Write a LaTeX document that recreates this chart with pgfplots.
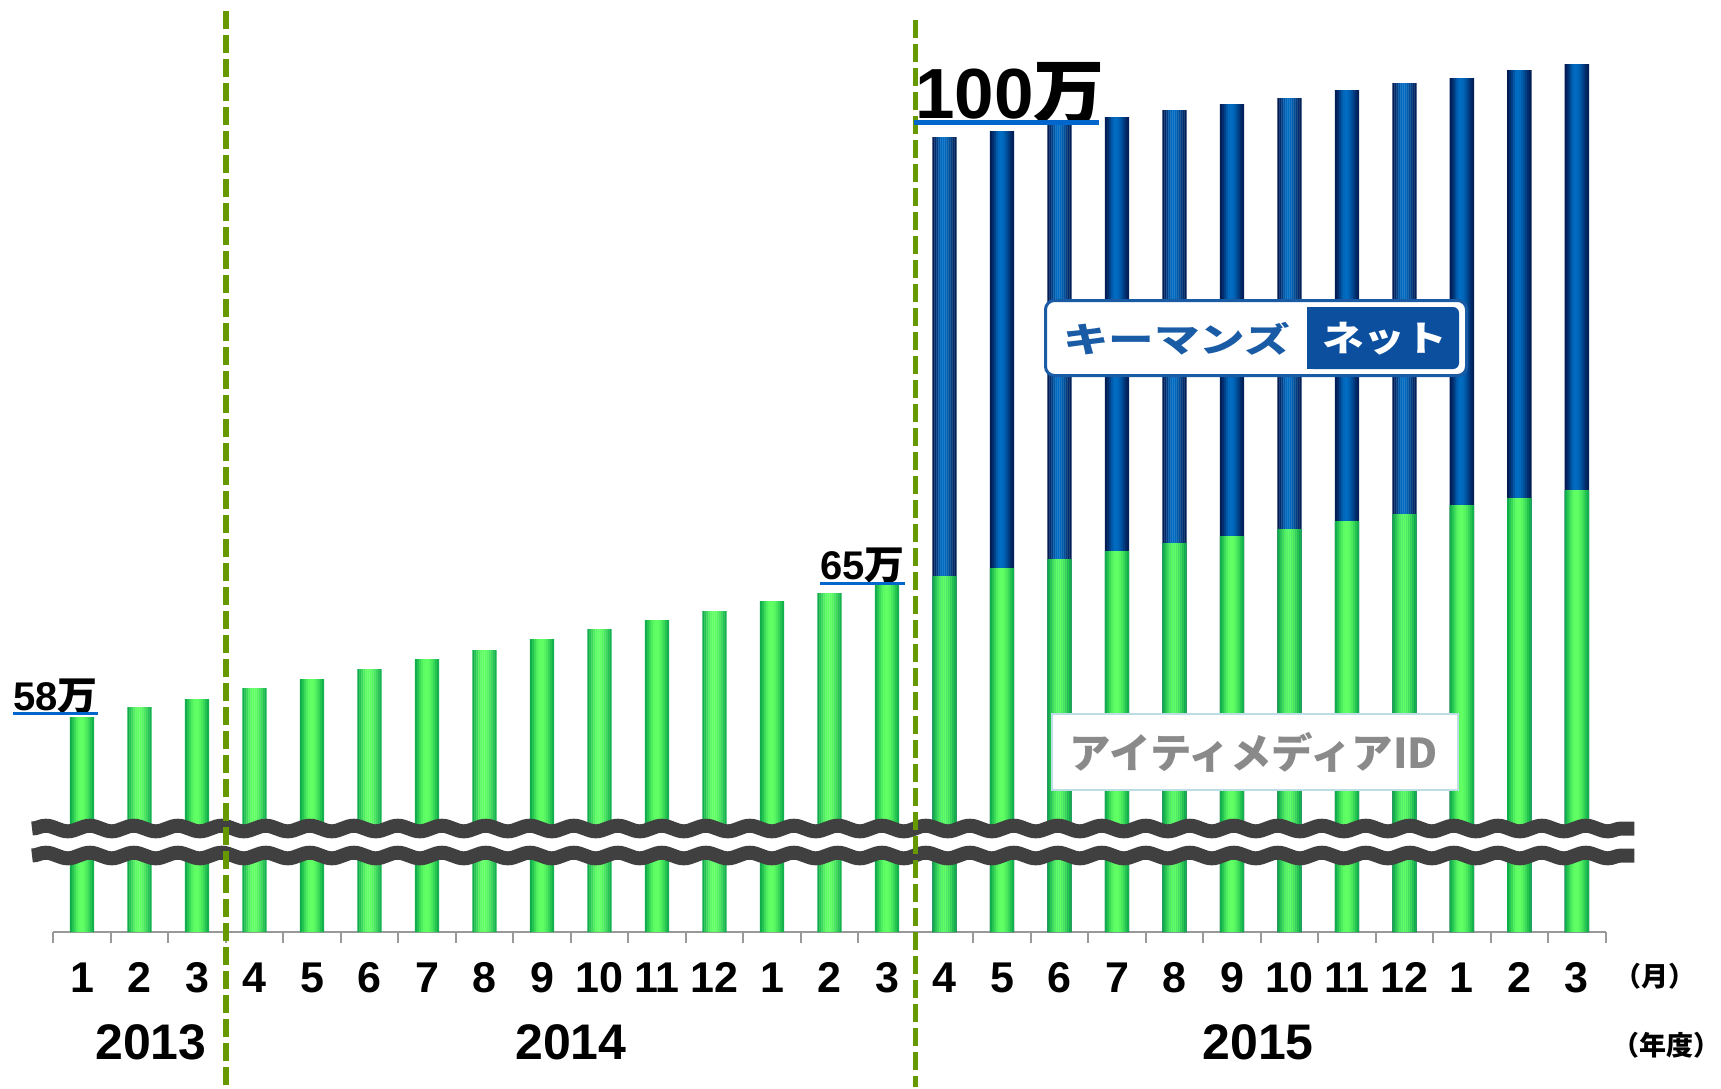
\documentclass[border=0pt]{standalone}
\usepackage{graphicx}
\usepackage{fontspec}
\setmainfont{Liberation Sans}
\newfontfamily\jp{Noto Sans CJK JP}
\usepackage{pgfplots}
\usepackage{pgfplotstable}
\pgfplotsset{compat=1.18}
\usetikzlibrary{decorations.pathmorphing}
\definecolor{gdark}{HTML}{0BAA4A}
\definecolor{glight}{HTML}{60FF64}
\definecolor{bdark}{HTML}{021C55}
\definecolor{blight}{HTML}{006CC2}
\definecolor{olivec}{HTML}{669900}
\definecolor{ulblue}{HTML}{0066CC}
\definecolor{brk}{HTML}{404040}
\definecolor{kmblue}{HTML}{1A5BA6}
\definecolor{kmdark}{HTML}{0B4F9E}
\definecolor{idgray}{HTML}{8A8A8A}
\definecolor{idborder}{HTML}{BCDDE4}
% アイティメディアID (green), month index 0..26 = 2013/1 .. 2016/3
\pgfplotstableread{
x y
0 215
1 225
2 233
3 244
4 253
5 263
6 273
7 282
8 293
9 303
10 312
11 321
12 331
13 339
14 348
15 356
16 364
17 373
18 381
19 389
20 396
21 403
22 411
23 418
24 427
25 434
26 442
}\greendata
% total incl. キーマンズネット (blue), FY2015
\pgfplotstableread{
x y
15 795
16 801
17 808
18 815
19 822
20 828
21 834
22 842
23 849
24 854
25 862
26 868
}\bluedata
% one vertical strip of each bar (gives the cylinder-like gradient)
\newcommand\strip[4]{\addplot[ybar, bar width=2.4pt, bar shift=#2pt, draw=none, fill=#4light!#3!#4dark] table[x=x,y=y]{#1};}
\begin{document}
\begin{tikzpicture}
\begin{axis}[
  at={(53.3pt,-932pt)}, anchor=south west,
  scale only axis, width=1552.4pt, height=932pt,
  xmin=-0.5, xmax=26.5, ymin=0, ymax=932,
  axis x line*=bottom, axis y line=none,
  axis line style={draw=gray!80, line width=2pt},
  xtick={0,...,26},
  xticklabels={1,2,3,4,5,6,7,8,9,10,11,12,1,2,3,4,5,6,7,8,9,10,11,12,1,2,3},
  major tick length=0pt,
  minor xtick={-0.5,0.5,...,26.5},
  minor tick length=11pt,
  xtick align=outside,
  minor tick style={draw=gray!80, line width=2pt},
  xticklabel style={font=\fontsize{43}{48}\selectfont\bfseries, anchor=base, yshift=-60pt},
  clip=false,
]
\strip{\bluedata}{-11}{0}{b}
\strip{\bluedata}{-9}{20}{b}
\strip{\bluedata}{-7}{45}{b}
\strip{\bluedata}{-5}{75}{b}
\strip{\bluedata}{-3}{95}{b}
\strip{\bluedata}{-1}{100}{b}
\strip{\bluedata}{1}{95}{b}
\strip{\bluedata}{3}{82}{b}
\strip{\bluedata}{5}{62}{b}
\strip{\bluedata}{7}{42}{b}
\strip{\bluedata}{9}{20}{b}
\strip{\bluedata}{11}{5}{b}
\strip{\greendata}{-11}{5}{g}
\strip{\greendata}{-9}{30}{g}
\strip{\greendata}{-7}{55}{g}
\strip{\greendata}{-5}{80}{g}
\strip{\greendata}{-3}{95}{g}
\strip{\greendata}{-1}{100}{g}
\strip{\greendata}{1}{100}{g}
\strip{\greendata}{3}{90}{g}
\strip{\greendata}{5}{75}{g}
\strip{\greendata}{7}{55}{g}
\strip{\greendata}{9}{32}{g}
\strip{\greendata}{11}{10}{g}
% axis break
\fill[white] (axis cs:-0.87,76.5) rectangle (axis cs:27.0,103.5);
\draw[brk, line width=14pt, decorate, decoration={snake, amplitude=2.8pt, segment length=44pt}] (axis cs:-0.87,103.5) -- (axis cs:27.0,103.5);
\draw[brk, line width=14pt, decorate, decoration={snake, amplitude=2.8pt, segment length=44pt}] (axis cs:-0.87,76.5) -- (axis cs:27.0,76.5);
% fiscal year separators
\draw[olivec, line width=5.5pt, dash pattern=on 18pt off 6pt] (axis cs:2.5,921) -- (axis cs:2.5,-153);
\draw[olivec, line width=5.5pt, dash pattern=on 18pt off 6pt] (axis cs:14.5,912) -- (axis cs:14.5,-155);
\end{axis}
% value annotations
\node[anchor=base west, inner sep=0pt, font=\fontsize{40}{42}\selectfont\bfseries] at (13pt,-710pt) {58{\jp 万}};
\draw[ulblue, line width=3pt] (13pt,-713.5pt) -- (98pt,-713.5pt);
\node[anchor=base west, inner sep=0pt, font=\fontsize{40}{42}\selectfont\bfseries] at (820pt,-579pt) {65{\jp 万}};
\draw[ulblue, line width=3pt] (820pt,-583.5pt) -- (905pt,-583.5pt);
\node[anchor=base west, inner sep=0pt, font=\fontsize{71}{76}\selectfont\bfseries] at (915pt,-118.5pt) {100{\jp 万}};
\draw[ulblue, line width=4.5pt] (914pt,-122.7pt) -- (1099pt,-122.7pt);
% years
\node[anchor=base, font=\fontsize{50}{55}\selectfont\bfseries] at (151pt,-1059pt) {2013};
\node[anchor=base, font=\fontsize{50}{55}\selectfont\bfseries] at (571pt,-1059pt) {2014};
\node[anchor=base, font=\fontsize{50}{55}\selectfont\bfseries] at (1258pt,-1059pt) {2015};
\node[inner sep=0pt, font=\jp\bfseries\fontsize{27}{30}\selectfont] at (1655pt,-976pt) {（月）};
\node[inner sep=0pt, font=\jp\bfseries\fontsize{27}{30}\selectfont] at (1666pt,-1045pt) {（年度）};
% logo: キーマンズネット
\draw[kmblue, line width=3pt, fill=white, rounded corners=9pt] (1045.5pt,-300.5pt) rectangle (1466.5pt,-375.5pt);
\fill[kmdark, rounded corners=6pt] (1307pt,-307pt) rectangle (1459pt,-369pt);
\fill[kmdark] (1307pt,-307pt) rectangle (1320pt,-369pt);
\node[kmblue, inner sep=0pt] at (1176.5pt,-338.5pt) {\resizebox*{227pt}{33pt}{\jp\bfseries キーマンズ}};
\node[white, inner sep=0pt] at (1384.5pt,-338.5pt) {\resizebox*{125pt}{33pt}{\jp\bfseries ネット}};
% logo: アイティメディアID
\draw[fill=white, draw=idborder, line width=2pt] (1052pt,-714pt) rectangle (1458pt,-790pt);
\node[idgray, inner sep=0pt] at (1254pt,-752pt) {\resizebox*{368pt}{40pt}{\jp\bfseries アイティメディアID}};
\pgfresetboundingbox
\useasboundingbox (0pt,0pt) rectangle (1721pt,-1088pt);
\end{tikzpicture}
\end{document}
